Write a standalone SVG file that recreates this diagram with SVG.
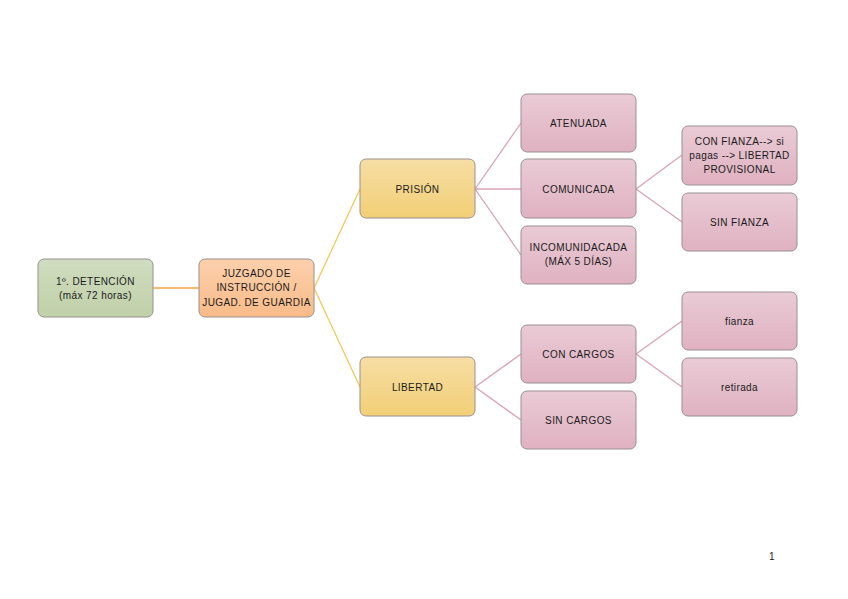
<svg xmlns="http://www.w3.org/2000/svg" width="848" height="599" viewBox="0 0 848 599">
<defs>
<linearGradient id="gGreen" x1="0" y1="0" x2="0" y2="1"><stop offset="0" stop-color="#d0dcc0"/><stop offset="1" stop-color="#c0d0a8"/></linearGradient>
<linearGradient id="gOrange" x1="0" y1="0" x2="0" y2="1"><stop offset="0" stop-color="#fcd0ad"/><stop offset="1" stop-color="#f9bb88"/></linearGradient>
<linearGradient id="gYellow" x1="0" y1="0" x2="0" y2="1"><stop offset="0" stop-color="#f6dea4"/><stop offset="1" stop-color="#f2cf76"/></linearGradient>
<linearGradient id="gPink" x1="0" y1="0" x2="0" y2="1"><stop offset="0" stop-color="#e9cbd5"/><stop offset="1" stop-color="#e0b1c1"/></linearGradient>
</defs>
<style>
.box{stroke:#9a9090;stroke-width:1}
.green{fill:url(#gGreen)}
.orange{fill:url(#gOrange)}
.yellow{fill:url(#gYellow)}
.pink{fill:url(#gPink)}
text{font-family:"Liberation Sans",Arial,sans-serif;font-size:10px;fill:#1a1a1a;text-anchor:middle;letter-spacing:0.4px}
.c1{stroke:#f7a446;stroke-width:1.3;fill:none}
.c2{stroke:#f3c95a;stroke-width:1.3;fill:none}
.c3{stroke:#d8a3b6;stroke-width:1.3;fill:none}
</style>
<rect width="848" height="599" fill="#ffffff"/>
<g id="connectors">
<line class="c1" x1="153" y1="288" x2="199" y2="288"/>
<line class="c2" x1="314" y1="288" x2="360" y2="189"/>
<line class="c2" x1="314" y1="288" x2="360" y2="387"/>
<line class="c3" x1="475" y1="189" x2="521" y2="123"/>
<line class="c3" x1="475" y1="189" x2="521" y2="189"/>
<line class="c3" x1="475" y1="189" x2="521" y2="255"/>
<line class="c3" x1="636" y1="189" x2="682" y2="155"/>
<line class="c3" x1="636" y1="189" x2="682" y2="222"/>
<line class="c3" x1="475" y1="387" x2="521" y2="354"/>
<line class="c3" x1="475" y1="387" x2="521" y2="420"/>
<line class="c3" x1="636" y1="354" x2="682" y2="321"/>
<line class="c3" x1="636" y1="354" x2="682" y2="387"/>
</g>
<g id="detencion"><rect class="box green" x="38" y="259" width="115" height="58" rx="6"/><text x="95.5" y="285">1º. DETENCIÓN</text><text x="95.5" y="299">(máx 72 horas)</text></g>
<g id="juzgado"><rect class="box orange" x="199" y="259" width="115" height="58" rx="6"/><text x="256.5" y="277">JUZGADO DE</text><text x="256.5" y="291">INSTRUCCIÓN /</text><text x="256.5" y="306">JUGAD. DE GUARDIA</text></g>
<g id="prision"><rect class="box yellow" x="360" y="159" width="115" height="59" rx="6"/><text x="417.5" y="192.5">PRISIÓN</text></g>
<g id="libertad"><rect class="box yellow" x="360" y="357" width="115" height="59" rx="6"/><text x="417.5" y="390.5">LIBERTAD</text></g>
<g id="atenuada"><rect class="box pink" x="521" y="94" width="115" height="58" rx="6"/><text x="578.5" y="126.5">ATENUADA</text></g>
<g id="comunicada"><rect class="box pink" x="521" y="159" width="115" height="59" rx="6"/><text x="578.5" y="192.5">COMUNICADA</text></g>
<g id="incomunicada"><rect class="box pink" x="521" y="226" width="115" height="58" rx="6"/><text x="578.5" y="251">INCOMUNIDACADA</text><text x="578.5" y="265">(MÁX 5 DÍAS)</text></g>
<g id="confianza"><rect class="box pink" x="682" y="126" width="115" height="59" rx="6"/><text x="739.5" y="145">CON FIANZA--&gt; si</text><text x="739.5" y="159">pagas --&gt; LIBERTAD</text><text x="739.5" y="173">PROVISIONAL</text></g>
<g id="sinfianza"><rect class="box pink" x="682" y="193" width="115" height="58" rx="6"/><text x="739.5" y="225.5">SIN FIANZA</text></g>
<g id="concargos"><rect class="box pink" x="521" y="325" width="115" height="58" rx="6"/><text x="578.5" y="357.5">CON CARGOS</text></g>
<g id="sincargos"><rect class="box pink" x="521" y="391" width="115" height="58" rx="6"/><text x="578.5" y="423.5">SIN CARGOS</text></g>
<g id="fianza"><rect class="box pink" x="682" y="292" width="115" height="58" rx="6"/><text x="739.5" y="324.5">fianza</text></g>
<g id="retirada"><rect class="box pink" x="682" y="358" width="115" height="58" rx="6"/><text x="739.5" y="390.5">retirada</text></g>
<text x="772" y="560">1</text>
</svg>
